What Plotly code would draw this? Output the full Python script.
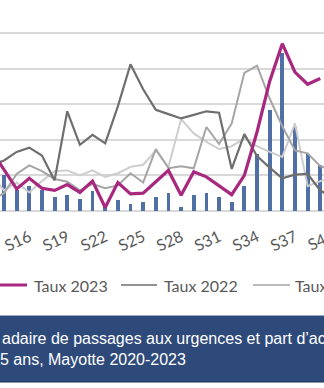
import plotly.graph_objects as go

# Epidemiological weeks shown (S13 .. S40)
weeks = list(range(13, 41))
week_labels = ["S16", "S19", "S22", "S25", "S28", "S31", "S34", "S37"]
week_ticks = [16, 19, 22, 25, 28, 31, 34, 37]
edge_week, edge_label = 40, "S40"

# Weekly emergency visits, under-5s, 2023 (bars)
passages_2023 = [None, 20, 12, 14, 12, 8, 9, 7, 11, 3, 6, 4, 5, 8, 10, 2, 9, 10, 8, 5,
                 14, 32, 57, 89, 47, 32, 26, None]

# Share of activity (%) per year
taux_2023 = [8.5, 5.7, 3.1, 4.6, 3.2, 2.9, 3.7, 2.6, 4.2, 0.5, 4.0, 2.4, 2.5, 4.1, 5.7,
             2.2, 5.5, 4.8, 3.5, 2.3, 5.0, 11.1, 18.2, 23.5, 19.5, 17.8, 18.6, None]
taux_2022 = [6.4, 7.1, 8.3, 8.9, 7.8, 4.3, 14.0, 9.3, 10.7, 9.5, 14.7, 20.6, 17.1, 14.2,
             13.6, 13.0, 13.5, 14.0, 13.8, 5.9, 10.8, 7.7, 6.1, 4.6, 5.1, 5.2, 2.9, 1.8]
taux_2021 = [1.5, 2.5, 5.2, 6.4, 5.6, 4.5, 4.1, 2.9, 3.8, 3.2, 3.6, 5.3, 4.0, 8.7, 6.0,
             6.3, 6.0, 11.8, 9.4, 12.3, 19.4, 20.4, 15.8, 11.9, 8.5, 8.1, 6.3, 5.7]
taux_2020 = [5.0, 2.9, 4.0, 2.6, 4.2, 5.6, 5.7, 5.0, 5.7, 4.8, 5.3, 6.2, 6.5, 8.5, 6.2,
             12.9, 10.9, 9.7, 8.7, 9.1, 10.2, 9.1, 8.3, 7.6, 12.3, 3.5, 4.2, 4.6]

caption_lines = ["adaire de passages aux urgences et part d\u2019ac",
                 "5 ans, Mayotte 2020-2023"]

C_BAR = "#4F6FA6"
C_2023 = "#A8287F"
C_2022 = "#6E6E6E"
C_2021 = "#A5A5A5"
C_2020 = "#CDCDCD"
C_BAND = "#2E4A7B"
C_TXT = "#595959"

W, H = 324, 388
PLOT_H = 211
x_range = [13.684, 39.296]
TICK_FONT = dict(family="Lato", size=16, color=C_TXT)
TICK_ANGLE = -25

fig = go.Figure()
fig.add_trace(go.Bar(x=weeks, y=passages_2023, width=0.3, marker_color=C_BAR,
                     marker_line_width=0, yaxis="y", showlegend=False))
for vals, col, w in [(taux_2020, C_2020, 2), (taux_2021, C_2021, 2),
                     (taux_2022, C_2022, 2.2), (taux_2023, C_2023, 3.2)]:
    fig.add_trace(go.Scatter(x=weeks, y=vals, mode="lines", yaxis="y2",
                             line=dict(color=col, width=w), showlegend=False,
                             cliponaxis=True))


def py(px):
    """pixel row -> paper y"""
    return (PLOT_H - px) / PLOT_H


shapes = []
annotations = []

# week label just past the right edge of the axis range
frac = (edge_week - x_range[0]) / (x_range[1] - x_range[0])
annotations.append(dict(xref="paper", yref="paper", x=(frac * W - 12.4) / W, y=py(239),
                        xanchor="center", yanchor="middle", showarrow=False,
                        textangle=TICK_ANGLE, text=edge_label, font=TICK_FONT))

# legend row
leg_y = py(285)
legend_items = [(-0.02, 27, 32, "Taux 2023", C_2023, 3),
                (121, 157, 162, "Taux 2022", C_2022, 1.6),
                (253, 290, 293, "Taux 2021", C_2021, 1.6)]
for x0, x1, tx, label, col, lw in legend_items:
    shapes.append(dict(type="line", xref="paper", yref="paper", x0=x0 / W, x1=x1 / W,
                       y0=leg_y, y1=leg_y, line=dict(color=col, width=lw)))
    annotations.append(dict(xref="paper", yref="paper", x=tx / W, y=leg_y,
                            xanchor="left", yanchor="middle", showarrow=False,
                            text=label, font=dict(family="Lato", size=16, color=C_TXT)))

# caption band
shapes.append(dict(type="rect", xref="paper", yref="paper", x0=-0.01, x1=1.01,
                   y0=py(382), y1=py(315.5), fillcolor=C_BAND, line_width=0, layer="above"))
shapes.append(dict(type="line", xref="paper", yref="paper", x0=-0.01, x1=1.01,
                   y0=py(315.5), y1=py(315.5), line=dict(color="#9AAAC6", width=1)))
shapes.append(dict(type="line", xref="paper", yref="paper", x0=-0.01, x1=1.01,
                   y0=py(382), y1=py(382), line=dict(color="#1B2C4C", width=1)))
for txt, cy, x0 in zip(caption_lines, [338, 359], [0, -2]):
    annotations.append(dict(xref="paper", yref="paper", x=x0 / W, y=py(cy),
                            xanchor="left", yanchor="middle", showarrow=False,
                            text=txt, font=dict(family="Liberation Sans", size=16,
                                                color="white")))

fig.update_layout(
    width=W, height=H,
    margin=dict(l=0, r=0, t=0, b=H - PLOT_H, pad=0),
    paper_bgcolor="white", plot_bgcolor="white",
    bargap=0,
    xaxis=dict(range=x_range, tickmode="array", tickvals=week_ticks, ticktext=week_labels,
               tickangle=TICK_ANGLE, ticks="", ticklabelstandoff=13, showgrid=False,
               zeroline=False, showline=False, tickfont=TICK_FONT),
    yaxis=dict(range=[0, 118.5], dtick=20, showgrid=True, gridcolor="#D9D9D9",
               gridwidth=1.5, zeroline=True, zerolinecolor="#D9D9D9", zerolinewidth=1.5,
               showticklabels=False, ticks=""),
    yaxis2=dict(range=[0, 29.63], overlaying="y", side="right", showgrid=False,
                zeroline=False, showticklabels=False, ticks=""),
    shapes=shapes,
    annotations=annotations,
)

fig.write_html("out.html")
